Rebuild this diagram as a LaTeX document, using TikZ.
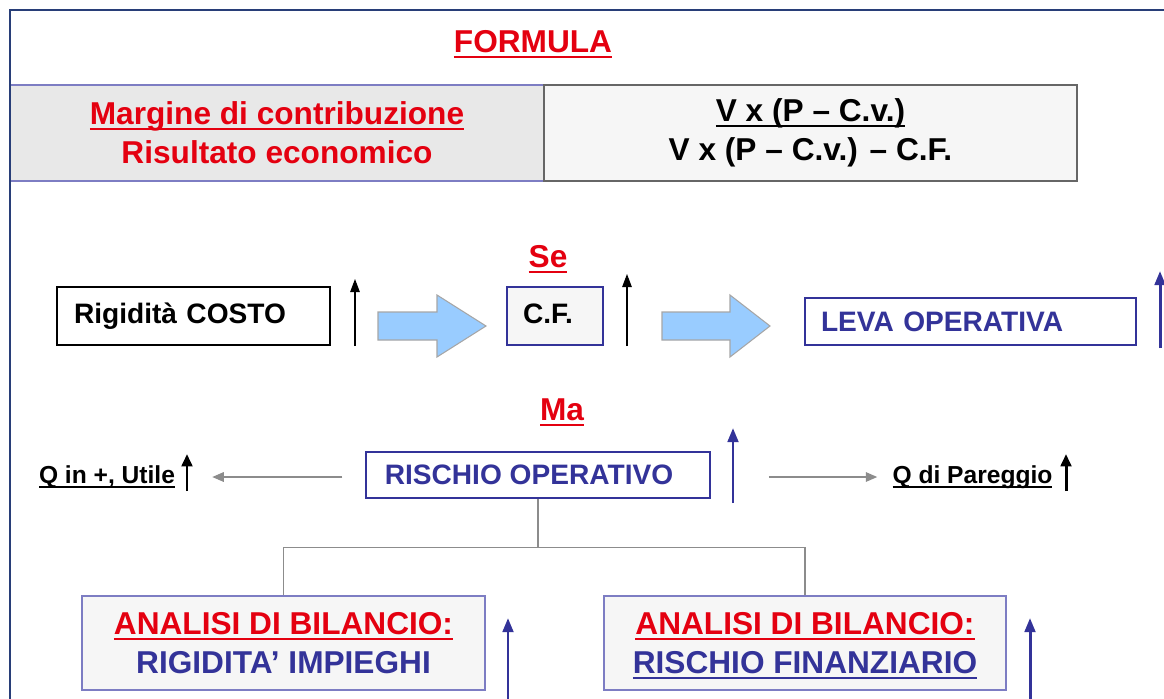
\documentclass[tikz,border=0pt]{standalone}
\usepackage{fontspec}
\setmainfont{Liberation Sans}
\usetikzlibrary{arrows.meta}
\definecolor{navy}{RGB}{51,51,153}
\definecolor{myred}{RGB}{228,0,16}
\definecolor{frameblue}{RGB}{40,62,120}
\definecolor{lightblue}{RGB}{153,204,255}
\definecolor{cellgray}{RGB}{232,232,232}
\definecolor{boxgray}{RGB}{246,246,246}
\definecolor{linegray}{RGB}{140,140,140}
\definecolor{cellline}{RGB}{125,125,195}
\newcommand\ulx[1]{\setbox0\hbox{#1}\rlap{\smash{\rule[-0.17em]{\wd0}{0.065em}}}#1}
\begin{document}
\begin{tikzpicture}[x=0.02cm,y=-0.02cm,
  fs16/.style={font=\fontsize{16}{19}\selectfont\bfseries},
  fs18/.style={font=\fontsize{18}{22.4}\selectfont\bfseries},
  fs14/.style={font=\fontsize{14}{17}\selectfont\bfseries},
  txt/.style={inner sep=0pt, anchor=center},
  box/.style={rectangle, inner sep=0pt, line width=0.9pt},
  thinarrow/.style={line width=0.6pt, -{Triangle[width=5.5pt,length=7.5pt]}},
  thickblue/.style={navy, line width=1.7pt, -{Triangle[width=6pt,length=8pt]}},
  thickblack/.style={black, line width=1.7pt, -{Triangle[width=6pt,length=7pt]}},
  grayarrow/.style={linegray, line width=0.6pt, -{Triangle[width=5.5pt,length=6.5pt]}},
  treeline/.style={linegray, line width=0.6pt},
  blockarrow/.style={fill=lightblue, draw=gray!70, line width=0.6pt}
]
\useasboundingbox (0,0) rectangle (1164,698);
\fill[white] (0,0) rectangle (1164,698);
\clip (0,0) rectangle (1164,698);

% title
\node[txt, fs18, text=myred] (formula) at (533,42) {\ulx{FORMULA}};

% table
\node[box, fill=cellgray, draw=cellline, line width=0.7pt, minimum width=10.68cm, minimum height=1.92cm,
      fs18, text=myred, align=center] (mc) at (277,133) {\ulx{Margine di contribuzione}\\Risultato economico};
\node[box, fill=boxgray, draw=gray!80!black, line width=0.7pt, minimum width=10.66cm, minimum height=1.92cm,
      fs18, align=center] (fm) at (810.5,133) {\ulx{V x (P – C.v.)}\\V x (P – C.v.) – C.F.};

% frame
\draw[frameblue, line width=1.2pt] (10,740) -- (10,10) -- (1200,10);

% Se / Ma
\node[txt, fs18, text=myred] (se) at (548,257) {\ulx{Se}};
\node[txt, fs18, text=myred] (ma) at (562,410) {\ulx{Ma}};

% row 2
\node[box, draw=black, fill=white, minimum width=5.46cm, minimum height=1.16cm, fs16,
      text width=5.46cm-0.68cm, align=left, inner xsep=0.34cm, inner ysep=0pt] (rc) at (193.5,316)
      {\raisebox{2.5pt}{Rigidità COSTO}};
\node[box, draw=navy, fill=boxgray, minimum width=1.92cm, minimum height=1.16cm, fs16,
      text width=1.92cm-0.64cm, align=left, inner xsep=0.32cm] (cf) at (555,316)
      {\raisebox{2.5pt}{C.F.}};
\node[box, draw=navy, fill=white, minimum width=6.62cm, minimum height=0.94cm, fs16, text=navy,
      text width=6.62cm-0.64cm, align=left, inner xsep=0.32cm] (leva) at (970.5,321.5) {LEVA OPERATIVA};

\draw[blockarrow] (378,312) -- (437,312) -- (437,295) -- (486,326) -- (437,357) -- (437,340) -- (378,340) -- cycle;
\draw[blockarrow] (662,312) -- (730,312) -- (730,295) -- (770,326) -- (730,357) -- (730,340) -- (662,340) -- cycle;

\coordinate (a1s) at (355,346); \coordinate (a1e) at (355,279);
\coordinate (a2s) at (627,346); \coordinate (a2e) at (627,274);
\coordinate (a3s) at (1160,348); \coordinate (a3e) at (1160,271);
\draw[thinarrow] (a1s) -- (a1e);
\draw[thinarrow] (a2s) -- (a2e);
\draw[thickblue] (a3s) -- (a3e);

% row 3
\node[box, draw=navy, fill=white, minimum width=6.88cm, minimum height=0.92cm, fs16, text=navy] (ro) at (538,475)
      {\hspace*{-0.36cm}RISCHIO OPERATIVO};
\node[txt, fs14] (qu) at (107,477) {\ulx{Q in +, Utile}};
\node[txt, fs14] (qp) at (972.5,477) {\ulx{Q di Pareggio}};
\draw[grayarrow] ([xshift=-0.46cm]ro.west |- qu.center) -- ([xshift=0.74cm]qu.east);
\draw[grayarrow] ([xshift=1.16cm]ro.east |- qp.center) -- ([xshift=-0.3cm]qp.west);

\coordinate (a4s) at (187,491); \coordinate (a4e) at (187,454);
\coordinate (a5s) at (1066,491); \coordinate (a5e) at (1066,454);
\coordinate (a6s) at (733,503); \coordinate (a6e) at (733,428);
\draw[thickblack] (a4s) -- (a4e);
\draw[thickblack] (a5s) -- (a5e);
\draw[thickblue] (a6s) -- (a6e);

% row 4
\node[box, draw=cellline, fill=boxgray, line width=0.7pt, minimum width=8.06cm, minimum height=1.88cm, fs18, align=center] (an1) at (283.5,643)
      {\textcolor{myred}{\ulx{ANALISI DI BILANCIO:}}\\\textcolor{navy}{RIGIDITA’ IMPIEGHI}};
\node[box, draw=cellline, fill=boxgray, line width=0.7pt, minimum width=8.04cm, minimum height=1.88cm, fs18, align=center] (an2) at (805,643)
      {\textcolor{myred}{\ulx{ANALISI DI BILANCIO:}}\\\textcolor{navy}{\ulx{RISCHIO FINANZIARIO}}};

\draw[treeline] (ro.south) -- ++(0,49) -| (an1.north);
\draw[treeline] (ro.south) -- ++(0,49) -| (an2.north);

\coordinate (a7s) at (508,700); \coordinate (a7e) at (508,618);
\coordinate (a8s) at (1030,700); \coordinate (a8e) at (1030,618);
\draw[thickblue] (a7s) -- (a7e);
\draw[thickblue] (a8s) -- (a8e);
\end{tikzpicture}
\end{document}
